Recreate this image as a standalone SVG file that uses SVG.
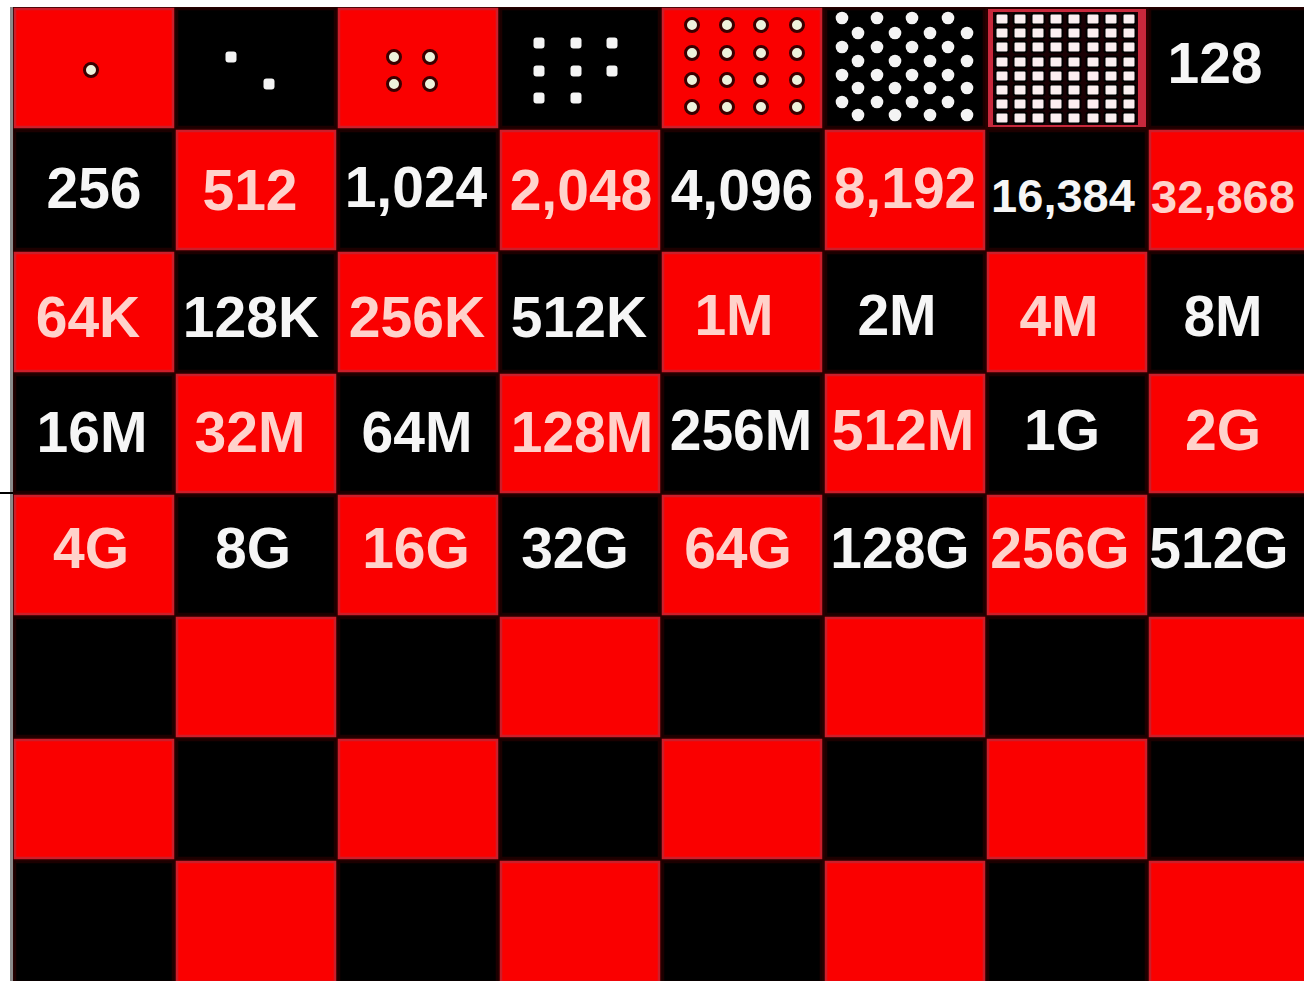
<svg xmlns="http://www.w3.org/2000/svg" xmlns:xlink="http://www.w3.org/1999/xlink" width="1304" height="981" viewBox="0 0 1304 981">
<style>
.r{fill:#fa0000;stroke:#cc1e2a;stroke-width:2.5}
.b{fill:#000;stroke:#1c0000;stroke-width:2.5}
.t{font-family:"Liberation Sans",Arial,sans-serif;font-weight:bold;text-anchor:middle}
.w{fill:#f6f6f6}
.p{fill:#ffd2cb}
.s{font-size:57px}
.m{font-size:47px}
.dr{fill:#eef2dc;stroke:#3a0000;stroke-width:3}
.db{fill:#f4f4f4}
.dg{fill:#fbeef0;stroke:#000;stroke-width:2}
</style>
<defs>
<circle id="dr" r="6.5"/>
<rect id="db" x="-5.5" y="-5.5" width="11" height="11" rx="3"/>
<circle id="dh" r="6.3"/>
<rect id="dg" x="-6.5" y="-5.5" width="13" height="11" rx="2"/>
</defs>
<rect x="0" y="0" width="1304" height="981" fill="#fff"/>
<rect x="10" y="7" width="3" height="974" fill="#8a8a8a"/>
<rect x="0" y="492" width="15" height="2" fill="#000"/>
<rect x="13" y="7" width="1291" height="974" fill="#2a0000"/>
<g id="board">
<g id="row1">
<rect class="r" x="15" y="9" width="158" height="118"/><rect class="b" x="177" y="9" width="158" height="118"/><rect class="r" x="339" y="9" width="158" height="118"/><rect class="b" x="501" y="9" width="158" height="118"/><rect class="r" x="663" y="9" width="158" height="118"/><rect class="b" x="826" y="9" width="158" height="118"/><rect x="988" y="9" width="158" height="118" fill="#c8283c"/><rect class="b" x="1150" y="9" width="158" height="118"/>
</g>
<g id="row2">
<rect class="b" x="15" y="131" width="158" height="118"/><rect class="r" x="177" y="131" width="158" height="118"/><rect class="b" x="339" y="131" width="158" height="118"/><rect class="r" x="501" y="131" width="158" height="118"/><rect class="b" x="663" y="131" width="158" height="118"/><rect class="r" x="826" y="131" width="158" height="118"/><rect class="b" x="988" y="131" width="158" height="118"/><rect class="r" x="1150" y="131" width="158" height="118"/>
</g>
<g id="row3">
<rect class="r" x="15" y="253" width="158" height="118"/><rect class="b" x="177" y="253" width="158" height="118"/><rect class="r" x="339" y="253" width="158" height="118"/><rect class="b" x="501" y="253" width="158" height="118"/><rect class="r" x="663" y="253" width="158" height="118"/><rect class="b" x="826" y="253" width="158" height="118"/><rect class="r" x="988" y="253" width="158" height="118"/><rect class="b" x="1150" y="253" width="158" height="118"/>
</g>
<g id="row4">
<rect class="b" x="15" y="375" width="158" height="117"/><rect class="r" x="177" y="375" width="158" height="117"/><rect class="b" x="339" y="375" width="158" height="117"/><rect class="r" x="501" y="375" width="158" height="117"/><rect class="b" x="663" y="375" width="158" height="117"/><rect class="r" x="826" y="375" width="158" height="117"/><rect class="b" x="988" y="375" width="158" height="117"/><rect class="r" x="1150" y="375" width="158" height="117"/>
</g>
<g id="row5">
<rect class="r" x="15" y="496" width="158" height="118"/><rect class="b" x="177" y="496" width="158" height="118"/><rect class="r" x="339" y="496" width="158" height="118"/><rect class="b" x="501" y="496" width="158" height="118"/><rect class="r" x="663" y="496" width="158" height="118"/><rect class="b" x="826" y="496" width="158" height="118"/><rect class="r" x="988" y="496" width="158" height="118"/><rect class="b" x="1150" y="496" width="158" height="118"/>
</g>
<g id="row6">
<rect class="b" x="15" y="618" width="158" height="118"/><rect class="r" x="177" y="618" width="158" height="118"/><rect class="b" x="339" y="618" width="158" height="118"/><rect class="r" x="501" y="618" width="158" height="118"/><rect class="b" x="663" y="618" width="158" height="118"/><rect class="r" x="826" y="618" width="158" height="118"/><rect class="b" x="988" y="618" width="158" height="118"/><rect class="r" x="1150" y="618" width="158" height="118"/>
</g>
<g id="row7">
<rect class="r" x="15" y="740" width="158" height="118"/><rect class="b" x="177" y="740" width="158" height="118"/><rect class="r" x="339" y="740" width="158" height="118"/><rect class="b" x="501" y="740" width="158" height="118"/><rect class="r" x="663" y="740" width="158" height="118"/><rect class="b" x="826" y="740" width="158" height="118"/><rect class="r" x="988" y="740" width="158" height="118"/><rect class="b" x="1150" y="740" width="158" height="118"/>
</g>
<g id="row8">
<rect class="b" x="15" y="862" width="158" height="120"/><rect class="r" x="177" y="862" width="158" height="120"/><rect class="b" x="339" y="862" width="158" height="120"/><rect class="r" x="501" y="862" width="158" height="120"/><rect class="b" x="663" y="862" width="158" height="120"/><rect class="r" x="826" y="862" width="158" height="120"/><rect class="b" x="988" y="862" width="158" height="120"/><rect class="r" x="1150" y="862" width="158" height="120"/>
</g>
</g>
<g id="dots">
<g id="d1" class="dr"><use xlink:href="#dr" x="91" y="70"/></g>
<g id="d2" class="db"><use xlink:href="#db" x="231" y="57"/><use xlink:href="#db" x="269" y="84"/></g>
<g id="d4" class="dr"><use xlink:href="#dr" x="394" y="57"/><use xlink:href="#dr" x="430" y="57"/><use xlink:href="#dr" x="394" y="84"/><use xlink:href="#dr" x="430" y="84"/></g>
<g id="d8" class="db">
<use xlink:href="#db" x="539" y="43"/><use xlink:href="#db" x="576" y="43"/><use xlink:href="#db" x="612" y="43"/>
<use xlink:href="#db" x="539" y="71"/><use xlink:href="#db" x="576" y="71"/><use xlink:href="#db" x="612" y="71"/>
<use xlink:href="#db" x="539" y="98"/><use xlink:href="#db" x="576" y="98"/>
</g>
<g id="d16" class="dr">
<use xlink:href="#dr" x="692" y="25"/><use xlink:href="#dr" x="727" y="25"/><use xlink:href="#dr" x="761" y="25"/><use xlink:href="#dr" x="797" y="25"/>
<use xlink:href="#dr" x="692" y="53"/><use xlink:href="#dr" x="727" y="53"/><use xlink:href="#dr" x="761" y="53"/><use xlink:href="#dr" x="797" y="53"/>
<use xlink:href="#dr" x="692" y="80"/><use xlink:href="#dr" x="727" y="80"/><use xlink:href="#dr" x="761" y="80"/><use xlink:href="#dr" x="797" y="80"/>
<use xlink:href="#dr" x="692" y="107"/><use xlink:href="#dr" x="727" y="107"/><use xlink:href="#dr" x="761" y="107"/><use xlink:href="#dr" x="797" y="107"/>
</g>
<g id="d32" class="db">
<use xlink:href="#dh" x="842" y="18"/><use xlink:href="#dh" x="877" y="18"/><use xlink:href="#dh" x="912" y="18"/><use xlink:href="#dh" x="948" y="18"/>
<use xlink:href="#dh" x="858" y="33"/><use xlink:href="#dh" x="895" y="33"/><use xlink:href="#dh" x="930" y="33"/><use xlink:href="#dh" x="967" y="33"/>
<use xlink:href="#dh" x="842" y="47"/><use xlink:href="#dh" x="877" y="47"/><use xlink:href="#dh" x="912" y="47"/><use xlink:href="#dh" x="948" y="47"/>
<use xlink:href="#dh" x="858" y="61"/><use xlink:href="#dh" x="895" y="61"/><use xlink:href="#dh" x="930" y="61"/><use xlink:href="#dh" x="967" y="61"/>
<use xlink:href="#dh" x="842" y="75"/><use xlink:href="#dh" x="877" y="75"/><use xlink:href="#dh" x="912" y="75"/><use xlink:href="#dh" x="948" y="75"/>
<use xlink:href="#dh" x="858" y="88"/><use xlink:href="#dh" x="895" y="88"/><use xlink:href="#dh" x="930" y="88"/><use xlink:href="#dh" x="967" y="88"/>
<use xlink:href="#dh" x="842" y="102"/><use xlink:href="#dh" x="877" y="102"/><use xlink:href="#dh" x="912" y="102"/><use xlink:href="#dh" x="948" y="102"/>
<use xlink:href="#dh" x="858" y="115"/><use xlink:href="#dh" x="895" y="115"/><use xlink:href="#dh" x="930" y="115"/><use xlink:href="#dh" x="967" y="115"/>
</g>
<g id="d64">
<rect x="993" y="12" width="145" height="113" fill="#1a0004"/>
<g class="dg">
<use xlink:href="#dg" x="1002" y="19"/><use xlink:href="#dg" x="1020" y="19"/><use xlink:href="#dg" x="1038" y="19"/><use xlink:href="#dg" x="1056" y="19"/><use xlink:href="#dg" x="1074" y="19"/><use xlink:href="#dg" x="1093" y="19"/><use xlink:href="#dg" x="1111" y="19"/><use xlink:href="#dg" x="1129" y="19"/>
<use xlink:href="#dg" x="1002" y="33"/><use xlink:href="#dg" x="1020" y="33"/><use xlink:href="#dg" x="1038" y="33"/><use xlink:href="#dg" x="1056" y="33"/><use xlink:href="#dg" x="1074" y="33"/><use xlink:href="#dg" x="1093" y="33"/><use xlink:href="#dg" x="1111" y="33"/><use xlink:href="#dg" x="1129" y="33"/>
<use xlink:href="#dg" x="1002" y="47"/><use xlink:href="#dg" x="1020" y="47"/><use xlink:href="#dg" x="1038" y="47"/><use xlink:href="#dg" x="1056" y="47"/><use xlink:href="#dg" x="1074" y="47"/><use xlink:href="#dg" x="1093" y="47"/><use xlink:href="#dg" x="1111" y="47"/><use xlink:href="#dg" x="1129" y="47"/>
<use xlink:href="#dg" x="1002" y="62"/><use xlink:href="#dg" x="1020" y="62"/><use xlink:href="#dg" x="1038" y="62"/><use xlink:href="#dg" x="1056" y="62"/><use xlink:href="#dg" x="1074" y="62"/><use xlink:href="#dg" x="1093" y="62"/><use xlink:href="#dg" x="1111" y="62"/><use xlink:href="#dg" x="1129" y="62"/>
<use xlink:href="#dg" x="1002" y="76"/><use xlink:href="#dg" x="1020" y="76"/><use xlink:href="#dg" x="1038" y="76"/><use xlink:href="#dg" x="1056" y="76"/><use xlink:href="#dg" x="1074" y="76"/><use xlink:href="#dg" x="1093" y="76"/><use xlink:href="#dg" x="1111" y="76"/><use xlink:href="#dg" x="1129" y="76"/>
<use xlink:href="#dg" x="1002" y="90"/><use xlink:href="#dg" x="1020" y="90"/><use xlink:href="#dg" x="1038" y="90"/><use xlink:href="#dg" x="1056" y="90"/><use xlink:href="#dg" x="1074" y="90"/><use xlink:href="#dg" x="1093" y="90"/><use xlink:href="#dg" x="1111" y="90"/><use xlink:href="#dg" x="1129" y="90"/>
<use xlink:href="#dg" x="1002" y="104"/><use xlink:href="#dg" x="1020" y="104"/><use xlink:href="#dg" x="1038" y="104"/><use xlink:href="#dg" x="1056" y="104"/><use xlink:href="#dg" x="1074" y="104"/><use xlink:href="#dg" x="1093" y="104"/><use xlink:href="#dg" x="1111" y="104"/><use xlink:href="#dg" x="1129" y="104"/>
<use xlink:href="#dg" x="1002" y="118"/><use xlink:href="#dg" x="1020" y="118"/><use xlink:href="#dg" x="1038" y="118"/><use xlink:href="#dg" x="1056" y="118"/><use xlink:href="#dg" x="1074" y="118"/><use xlink:href="#dg" x="1093" y="118"/><use xlink:href="#dg" x="1111" y="118"/><use xlink:href="#dg" x="1129" y="118"/>
</g>
</g>
</g>
<g id="labels" class="t s">
<text class="w" x="1215" y="83">128</text>
<text class="w" x="94" y="208">256</text>
<text class="p" x="250" y="210">512</text>
<text class="w" x="416" y="207">1,024</text>
<text class="p" x="581" y="210">2,048</text>
<text class="w" x="742" y="210">4,096</text>
<text class="p" x="905" y="208">8,192</text>
<text class="w m" x="1063" y="212">16,384</text>
<text class="p m" x="1223" y="213">32,868</text>
<text class="p" x="88" y="337">64K</text>
<text class="w" x="251" y="337">128K</text>
<text class="p" x="417" y="337">256K</text>
<text class="w" x="579" y="337">512K</text>
<text class="p" x="734" y="335">1M</text>
<text class="w" x="897" y="335">2M</text>
<text class="p" x="1059" y="336">4M</text>
<text class="w" x="1223" y="336">8M</text>
<text class="w" x="92" y="452">16M</text>
<text class="p" x="250" y="452">32M</text>
<text class="w" x="417" y="452">64M</text>
<text class="p" x="582" y="452">128M</text>
<text class="w" x="741" y="450">256M</text>
<text class="p" x="903" y="450">512M</text>
<text class="w" x="1062" y="450">1G</text>
<text class="p" x="1223" y="450">2G</text>
<text class="p" x="91" y="568">4G</text>
<text class="w" x="253" y="568">8G</text>
<text class="p" x="416" y="568">16G</text>
<text class="w" x="575" y="568">32G</text>
<text class="p" x="738" y="568">64G</text>
<text class="w" x="900" y="568">128G</text>
<text class="p" x="1060" y="568">256G</text>
<text class="w" x="1219" y="568">512G</text>
</g>
</svg>
